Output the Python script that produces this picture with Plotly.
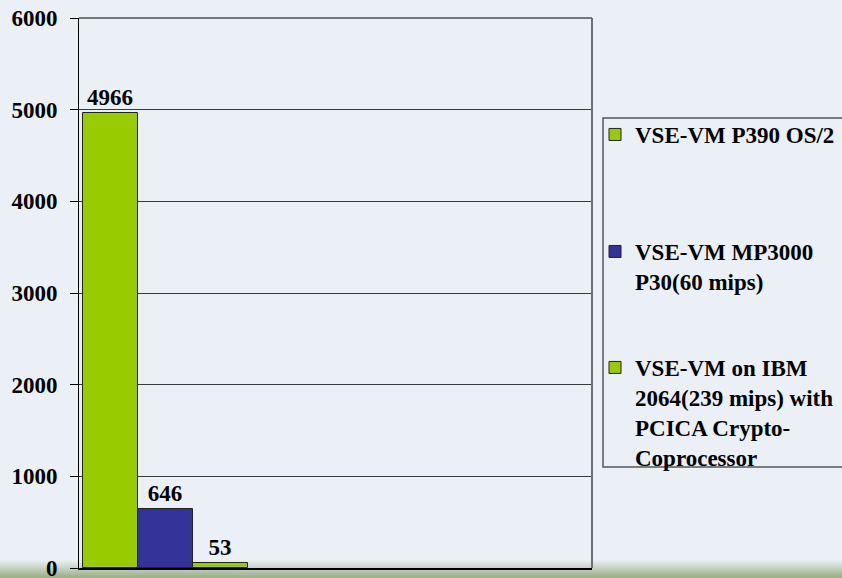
import plotly.graph_objects as go

# ---- data ----
series_names = [
    "VSE-VM P390 OS/2",
    "VSE-VM MP3000<br>P30(60 mips)",
    "VSE-VM on IBM<br>2064(239 mips) with<br>PCICA Crypto-<br>Coprocessor",
]
series_values = [4966, 646, 53]
series_colors = ["#99CC00", "#333399", "#99CC00"]
category = [""]
y_ticks = [0, 1000, 2000, 3000, 4000, 5000, 6000]

W, H = 842, 578
BG = "#EBF0F7"
FONT = "'Liberation Serif', 'Times New Roman', Times, serif"

fig = go.Figure()
legend_ids = ["legend", "legend2", "legend3"]
for name, val, col, lg in zip(series_names, series_values, series_colors, legend_ids):
    fig.add_trace(go.Bar(
        x=category, y=[val], name=name,
        marker=dict(color=col, line=dict(color="#222222", width=1)),
        text=[str(val)], textposition="outside", cliponaxis=False,
        textfont=dict(family=FONT, size=23, color="black", weight="bold"),
        legend=lg,
    ))

def cx(px):
    return px / W

def cy(py):
    return 1 - py / H

def leg(x_px, top_px):
    return dict(
        x=cx(x_px), y=cy(top_px),
        xref="container", yref="container", xanchor="left", yanchor="top",
        bgcolor="rgba(0,0,0,0)", borderwidth=0, valign="top",
        font=dict(family=FONT, size=23, color="black", weight="bold"),
    )

fig.update_layout(
    width=W, height=H,
    margin=dict(l=79, r=250, t=18, b=10, autoexpand=False),
    paper_bgcolor=BG, plot_bgcolor=BG,
    barmode="group", bargap=0, bargroupgap=0,
    showlegend=True,
    legend=leg(595, 113),
    legend2=leg(595, 230),
    legend3=leg(595, 346),
    xaxis=dict(
        type="category", range=[-0.522, 2.587], showticklabels=False,
        ticks="", showgrid=False, zeroline=False, automargin=False,
        showline=True, linecolor="black", linewidth=2,
    ),
    yaxis=dict(
        range=[0, 6000], tickvals=y_ticks, ticktext=[str(v) for v in y_ticks],
        ticks="outside", ticklen=8, tickcolor="black", tickwidth=1,
        ticklabelstandoff=8, ticklabeloverflow="allow", automargin=False,
        tickfont=dict(family=FONT, size=23, color="black", weight="bold"),
        showgrid=True, gridcolor="#3A3A3A", gridwidth=1,
        zeroline=False, showline=True, linecolor="black", linewidth=1,
    ),
)

shapes = []
shapes.append(dict(type="line", xref="paper", yref="paper", x0=0, x1=1, y0=1, y1=1,
                   line=dict(color="black", width=1)))
shapes.append(dict(type="line", xref="paper", yref="paper", x0=1, x1=1, y0=0, y1=1,
                   line=dict(color="#6E6E74", width=2)))

plot_l, plot_r, plot_t, plot_b = 79, 592, 18, 568
def px2paper_x(px):
    return (px - plot_l) / (plot_r - plot_l)

def px2paper_y(py):
    return (plot_b - py) / (plot_b - plot_t)

shapes.append(dict(type="rect", xref="paper", yref="paper",
                   x0=px2paper_x(603), x1=px2paper_x(846),
                   y0=px2paper_y(467), y1=px2paper_y(118),
                   line=dict(color="#555555", width=1.5), fillcolor="rgba(0,0,0,0)"))

# bottom green gradient band
top_c = (0xEB, 0xF0, 0xF7)
bot_c = (0x98, 0xAD, 0x84)
y_start, y_end = 560, 578
n = y_end - y_start
for i in range(n):
    t = (i + 1) / n
    t = t ** 1.1
    c = tuple(int(round(top_c[k] + (bot_c[k] - top_c[k]) * t)) for k in range(3))
    shapes.append(dict(type="rect", xref="paper", yref="paper", layer="below",
                       x0=px2paper_x(-5), x1=px2paper_x(W + 5),
                       y0=px2paper_y(y_start + i + 1), y1=px2paper_y(y_start + i),
                       line=dict(width=0), fillcolor="rgb(%d,%d,%d)" % c))
fig.update_layout(shapes=shapes)

fig.write_html("out.html")
